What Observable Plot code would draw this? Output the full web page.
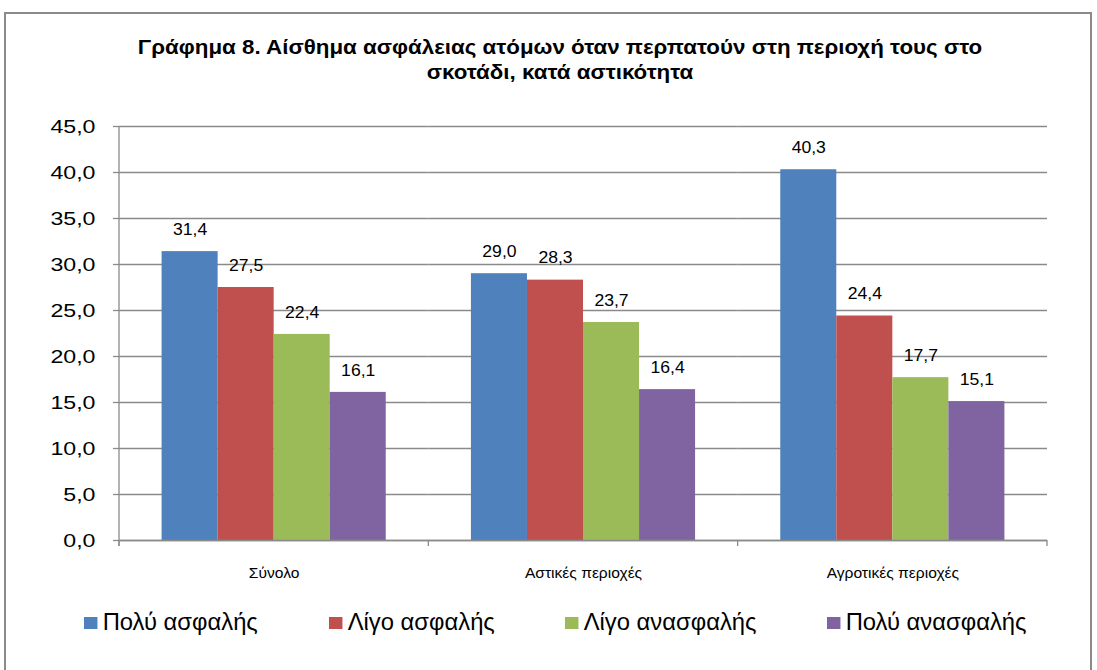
<!DOCTYPE html>
<html>
<head>
<meta charset="utf-8">
<script src="https://cdn.jsdelivr.net/npm/d3@7"></script>
<script src="https://cdn.jsdelivr.net/npm/@observablehq/plot@0.6"></script>
<style>
  html, body { margin: 0; padding: 0; width: 1097px; height: 670px; overflow: hidden; background: #fff; font-family: "Liberation Sans", Arial, sans-serif; }
  #frame { position: absolute; left: 4px; top: 12px; width: 1088px; height: 700px; border: 2px solid #8a8a8a; box-sizing: border-box; }
  #title { position: absolute; left: 0; top: 34px; width: 1120px; text-align: center; font-weight: bold; font-size: 20.5px; line-height: 25px; color: #000; transform: scaleX(1.09); transform-origin: 560px 0; }
  #chart { position: absolute; left: 0; top: 100px; }
  #legend { position: absolute; left: 0; top: 609px; width: 1097px; height: 30px; font-size: 23px; color: #000; }
  .item { position: absolute; top: 0; display: flex; align-items: center; white-space: nowrap; transform: scaleX(1.035); transform-origin: 0 0; }
  .sw { width: 13px; height: 12px; margin-right: 5px; }
</style>
</head>
<body>
<div id="frame"></div>
<div id="title">Γράφημα 8. Αίσθημα ασφάλειας ατόμων όταν περπατούν στη περιοχή τους στο<br>σκοτάδι, κατά αστικότητα</div>
<div id="chart"></div>
<div id="legend"></div>
<script>
const categories = ["Σύνολο", "Αστικές περιοχές", "Αγροτικές περιοχές"];
const seriesNames = ["Πολύ ασφαλής", "Λίγο ασφαλής", "Λίγο ανασφαλής", "Πολύ ανασφαλής"];
const seriesColors = ["#4F81BD", "#C0504D", "#9BBB59", "#8064A2"];
const polyAsfalis = [31.4, 29.0, 40.3];
const ligoAsfalis = [27.5, 28.3, 24.4];
const ligoAnasfalis = [22.4, 23.7, 17.7];
const polyAnasfalis = [16.1, 16.4, 15.1];
const yTicks = [0, 5, 10, 15, 20, 25, 30, 35, 40, 45];

// layout (not data): legend item left edges
const legendLefts = [84, 329, 565, 827];

const seriesValues = [polyAsfalis, ligoAsfalis, ligoAnasfalis, polyAnasfalis];
const data = [];
categories.forEach((c, i) => {
  seriesNames.forEach((s, j) => data.push({category: c, series: s, value: seriesValues[j][i]}));
});
const fmt = d => d.toFixed(1).replace(".", ",");

const W = 1097, H = 490, ML = 119, MR = 50, MT = 26, MB = 50;
const plot = Plot.plot({
  width: W, height: H,
  marginLeft: ML, marginRight: MR, marginTop: MT, marginBottom: MB,
  style: {fontFamily: '"Liberation Sans", Arial, sans-serif', background: "transparent"},
  fx: {domain: categories, padding: 0, label: null, round: false},
  x: {domain: seriesNames, paddingInner: 0, paddingOuter: 0.76, axis: null, round: false},
  y: {domain: [0, 45], ticks: yTicks, label: null},
  color: {domain: seriesNames, range: seriesColors},
  marks: [
    Plot.gridY(yTicks, {stroke: "#8a8a8a", strokeOpacity: 1, strokeWidth: 1.3}),
    Plot.barY(data, {fx: "category", x: "series", y: "value", fill: "series", inset: 0}),
    Plot.text(data, {fx: "category", x: "series", y: "value", text: d => fmt(d.value), dy: -22, fontSize: 16, fill: "#000"}),
    Plot.ruleY([0], {stroke: "#8a8a8a", strokeWidth: 1.3}),
    Plot.axisY(yTicks, {tickFormat: fmt, tickSize: 6, tickPadding: 18, fontSize: 19, stroke: "#8a8a8a", strokeWidth: 1.3, fill: "#000", label: null}),
    Plot.axisFx({anchor: "bottom", tickSize: 0, tickPadding: 27, fontSize: 15, label: null, fill: "#000"})
  ]
});
document.getElementById("chart").appendChild(plot);

const svg = d3.select(plot);
// widen texts horizontally (the reference is horizontally stretched)
function stretch(sel, s) {
  sel.each(function () {
    const t = this.getAttribute("transform") || "";
    this.setAttribute("transform", t + ` scale(${s},1)`);
  });
}
stretch(svg.selectAll('g[aria-label="y-axis tick label"] text'), 1.22);
stretch(svg.selectAll('g[aria-label="fx-axis tick label"] text'), 1.04);
stretch(svg.selectAll('g[aria-label="text"] text'), 1.1);

// axis line and category boundary ticks via the plot's scales
const fx = plot.scale("fx");
const ys = plot.scale("y");
const y0 = ys.apply(0), yTop = ys.apply(45);
const g = svg.append("g").attr("stroke", "#8a8a8a").attr("stroke-width", 1.3);
g.append("line").attr("x1", ML).attr("x2", ML).attr("y1", yTop).attr("y2", y0 + 6);
const bounds = categories.map(c => fx.apply(c));
bounds.push(fx.apply(categories[categories.length - 1]) + fx.bandwidth);
bounds.forEach(b => g.append("line").attr("x1", b).attr("x2", b).attr("y1", y0).attr("y2", y0 + 6));

// legend
const legend = d3.select("#legend");
seriesNames.forEach((s, i) => {
  const it = legend.append("div").attr("class", "item").style("left", legendLefts[i] + "px");
  it.append("div").attr("class", "sw").style("background", seriesColors[i]);
  it.append("span").text(s);
});
</script>
</body>
</html>
